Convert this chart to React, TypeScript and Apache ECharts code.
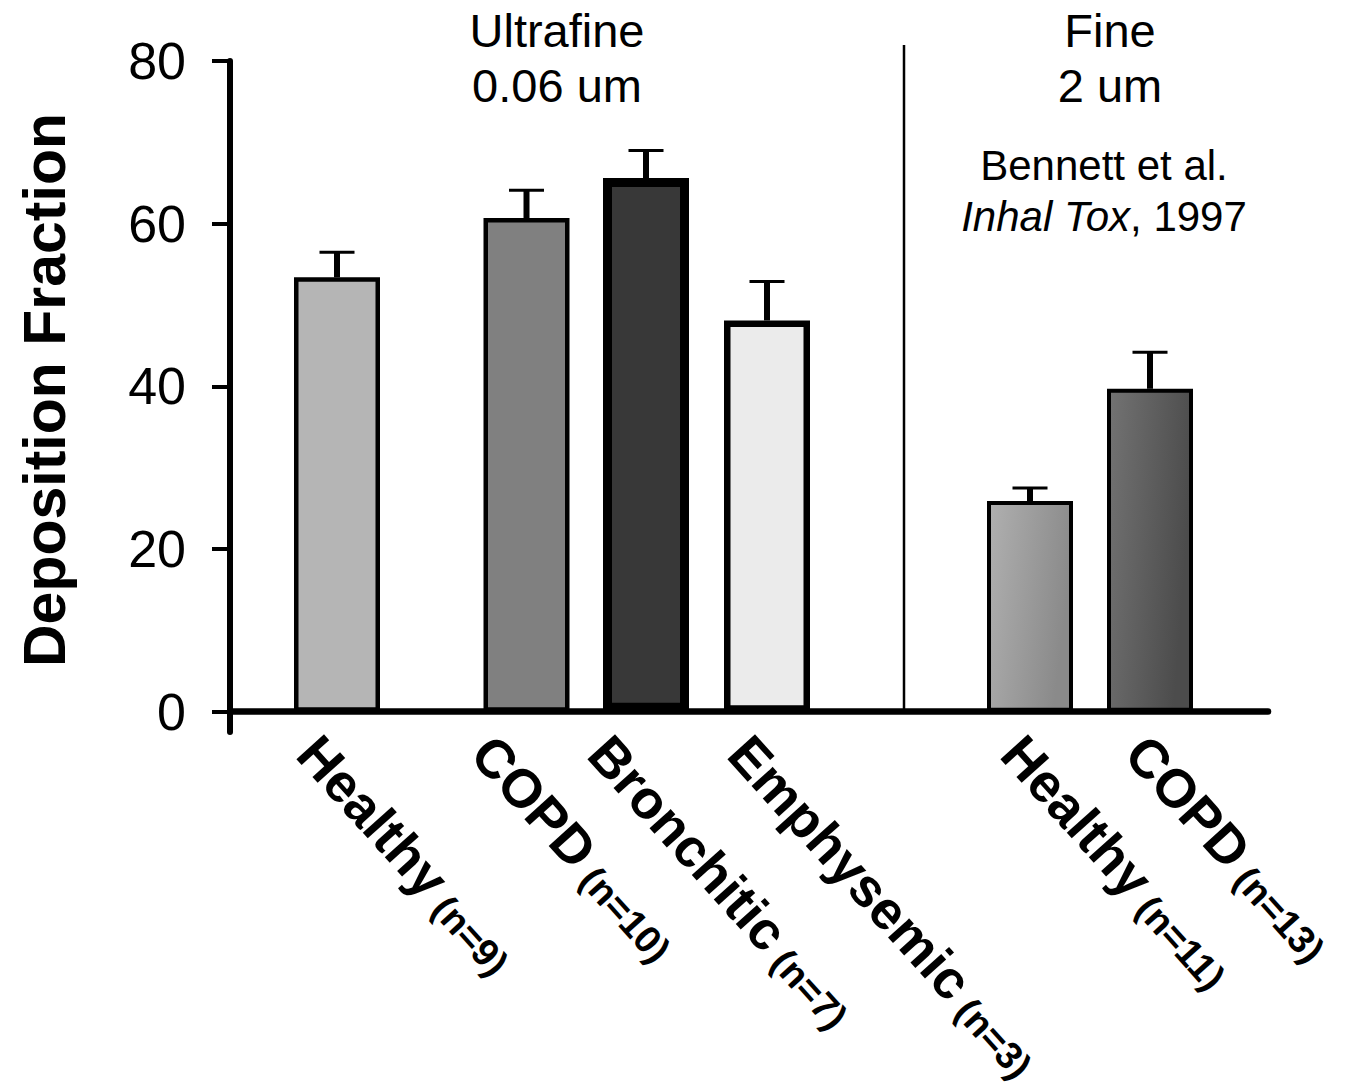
import React, { useEffect, useRef } from "react";
import * as echarts from "echarts";

// ---- data ----
const categories = ["Healthy", "COPD", "Bronchitic", "Emphysemic", "Healthy", "COPD"];
const nLabels = ["(n=9)", "(n=10)", "(n=7)", "(n=3)", "(n=11)", "(n=13)"];
const values = [53.4, 60.7, 65.6, 48.1, 25.9, 39.7];
const errors = [3.1, 3.4, 3.4, 4.8, 1.6, 4.5];
const yTicks = [0, 20, 40, 60, 80];

// ---- layout (x positions along the value x-axis) ----
const barX = [107, 296.5, 416, 537, 800, 920];
const labelX = [78, 252, 369, 509, 782, 906];

const FONT = "'Liberation Sans', Arial, Helvetica, sans-serif";

const grad = (a: string, b: string) =>
  new echarts.graphic.LinearGradient(0, 0, 1, 0.3, [
    { offset: 0, color: a },
    { offset: 1, color: b },
  ]);

const barStyles: any[] = [
  { color: "#b5b5b5", borderColor: "#000", borderWidth: 4.5 },
  { color: "#808080", borderColor: "#000", borderWidth: 4.5 },
  { color: "#383838", borderColor: "#000", borderWidth: 9 },
  { color: "#ebebeb", borderColor: "#000", borderWidth: 6.5 },
  { color: grad("#b0b0b0", "#8a8a8a"), borderColor: "#000", borderWidth: 4 },
  { color: grad("#737373", "#4c4c4c"), borderColor: "#000", borderWidth: 4 },
];

export default function App() {
  const ref = useRef<HTMLDivElement>(null);
  useEffect(() => {
    if (!ref.current) return;
    const chart = echarts.init(ref.current, null, { renderer: "svg" });
    const option: any = {
      animation: false,
      backgroundColor: "#fff",
      textStyle: { fontFamily: FONT },
      grid: { left: 230, top: 61, width: 1038, height: 671, containLabel: false },
      xAxis: {
        type: "value",
        min: 0,
        max: 1038,
        axisLine: { show: true, onZero: true, lineStyle: { color: "#000", width: 6.5 } },
        axisTick: { show: false },
        axisLabel: { show: false },
        splitLine: { show: false },
      },
      yAxis: {
        type: "value",
        min: -2.5,
        max: 80,
        axisLine: { show: true, onZero: false, lineStyle: { color: "#000", width: 6 } },
        axisTick: { show: true, customValues: yTicks, length: 18, lineStyle: { color: "#000", width: 4 } },
        axisLabel: { customValues: yTicks, fontSize: 52, color: "#000", margin: 44, fontFamily: FONT },
        splitLine: { show: false },
      },
      series: [
        {
          type: "bar",
          barWidth: 86,
          z: 2,
          data: values.map((v, i) => ({ value: [barX[i], v], itemStyle: barStyles[i] })),
        },
        {
          type: "custom",
          z: 3,
          clip: false,
          data: values.map((v, i) => [barX[i], v, errors[i]]),
          renderItem: (params: any, api: any) => {
            const x = api.value(0);
            const v = api.value(1);
            const e = api.value(2);
            const p0 = api.coord([x, v]);
            const p1 = api.coord([x, v + e]);
            return {
              type: "group",
              children: [
                { type: "line", shape: { x1: p0[0], y1: p0[1], x2: p1[0], y2: p1[1] }, style: { stroke: "#000", lineWidth: 6 } },
                { type: "line", shape: { x1: p1[0] - 17.5, y1: p1[1], x2: p1[0] + 17.5, y2: p1[1] }, style: { stroke: "#000", lineWidth: 3 } },
              ],
            };
          },
        },
        {
          type: "custom",
          z: 4,
          clip: false,
          silent: true,
          data: labelX.map((x, i) => [x, 0, i]),
          renderItem: (params: any, api: any) => {
            const i = api.value(2);
            const p = api.coord([api.value(0), api.value(1)]);
            return {
              type: "text",
              x: p[0],
              y: p[1] + 32,
              rotation: (-48 * Math.PI) / 180,
              style: {
                text: `{a|${categories[i]}}{b| ${nLabels[i]}}`,
                align: "left",
                verticalAlign: "middle",
                rich: {
                  a: { fontSize: 54, fontWeight: "bold", fontFamily: FONT, fill: "#000", color: "#000", verticalAlign: "bottom" },
                  b: { fontSize: 38, fontWeight: "bold", fontFamily: FONT, fill: "#000", color: "#000", verticalAlign: "bottom" },
                },
              },
            };
          },
        },
      ],
      graphic: [
        {
          type: "line",
          shape: { x1: 904, y1: 45, x2: 904, y2: 712 },
          style: { stroke: "#000", lineWidth: 2.5 },
          z: 1,
        },
        {
          type: "text",
          x: 557,
          y: 3,
          style: { text: "Ultrafine\n0.06 um", fontSize: 47, fontFamily: FONT, fill: "#000", align: "center", verticalAlign: "top", lineHeight: 55 },
        },
        {
          type: "text",
          x: 1110,
          y: 3,
          style: { text: "Fine\n2 um", fontSize: 47, fontFamily: FONT, fill: "#000", align: "center", verticalAlign: "top", lineHeight: 55 },
        },
        {
          type: "text",
          x: 1104,
          y: 140,
          style: {
            text: "Bennett et al.\n{i|Inhal Tox}, 1997",
            fontSize: 42,
            fontFamily: FONT,
            fill: "#000",
            align: "center",
            verticalAlign: "top",
            lineHeight: 51,
            rich: { i: { fontSize: 42, fontStyle: "italic", fontFamily: FONT, fill: "#000", lineHeight: 51 } },
          },
        },
        {
          type: "text",
          x: 45,
          y: 390,
          rotation: Math.PI / 2,
          style: { text: "Deposition Fraction", fontSize: 59, fontWeight: "bold", fontFamily: FONT, fill: "#000", align: "center", verticalAlign: "middle" },
        },
      ],
    };
    chart.setOption(option);
    return () => chart.dispose();
  }, []);
  return <div ref={ref} style={{ position: "absolute", left: 0, top: 0, width: 1347, height: 1087 }} />;
}
